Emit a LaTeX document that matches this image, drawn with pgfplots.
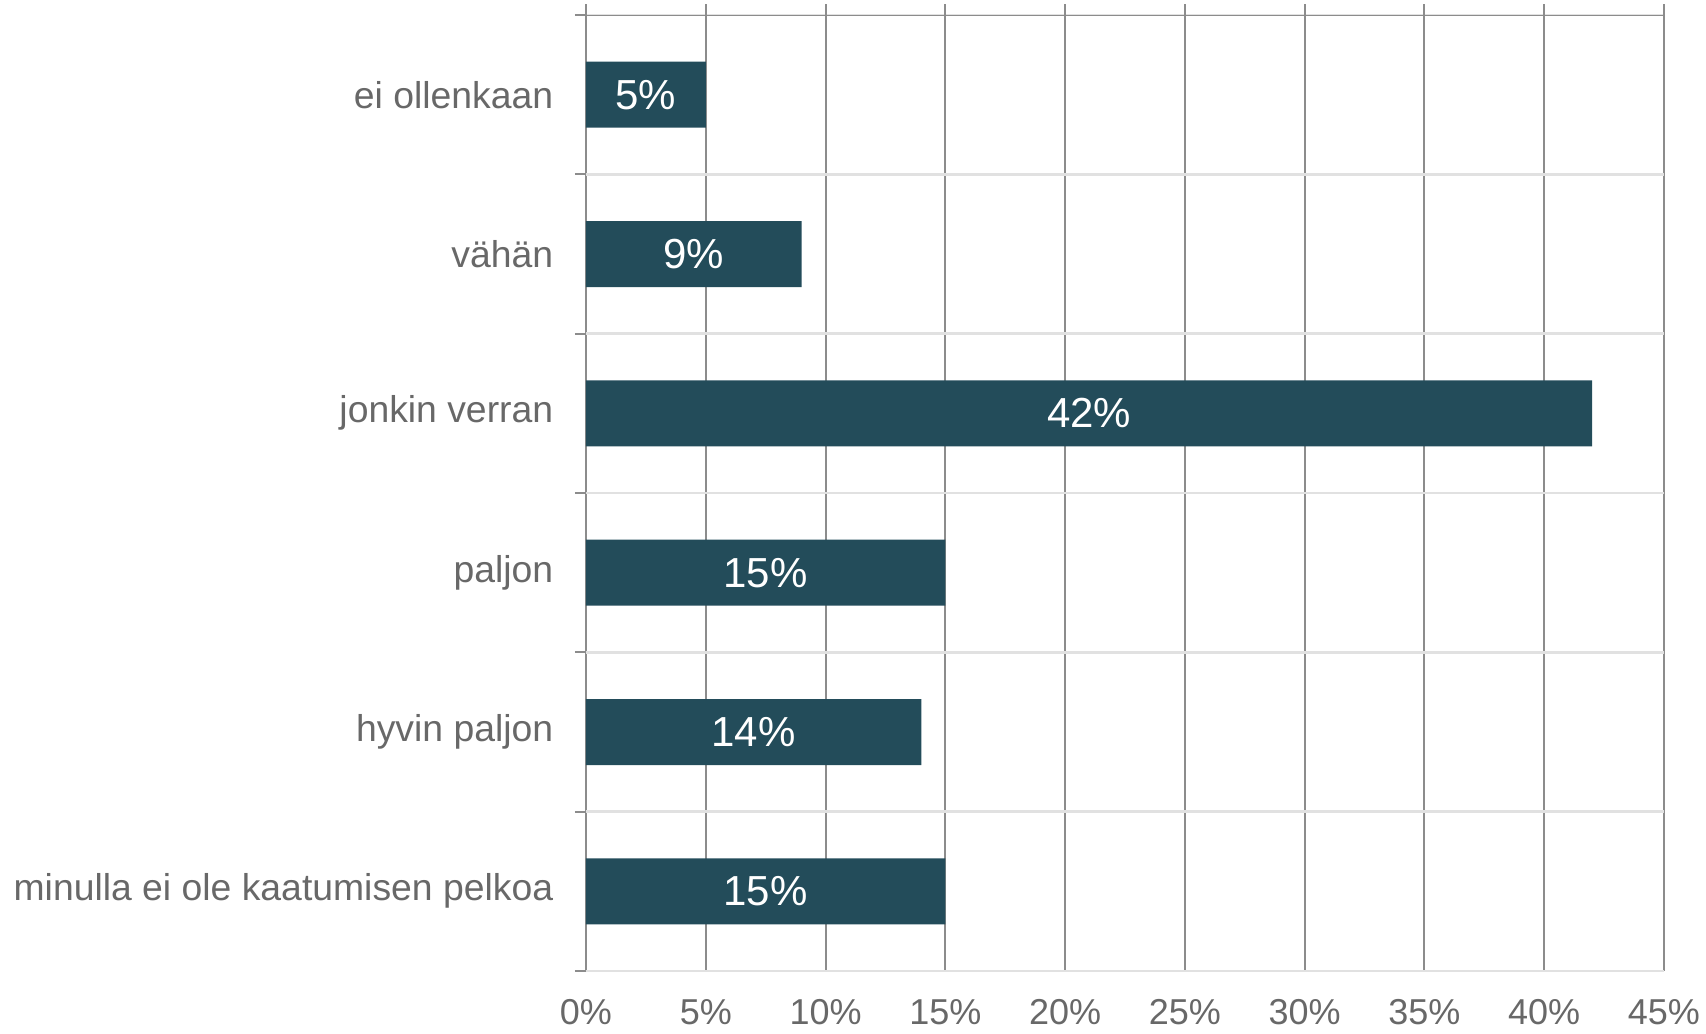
\documentclass[border=0pt]{standalone}
\usepackage{pgfplots}
\pgfplotsset{compat=1.18}
\usepackage{pgfplotstable}
\usepackage{fontspec}
\setmainfont{Liberation Sans}
\definecolor{barcol}{RGB}{35,76,90}
\definecolor{txtgray}{RGB}{104,104,104}
\definecolor{gridd}{RGB}{140,140,140}
\definecolor{gridl}{RGB}{225,225,225}
\pgfplotstableread{
y v
0 5
1 9
2 42
3 15
4 14
5 15
}\data
\begin{document}
\begin{tikzpicture}
\useasboundingbox (-175.8pt,-18.9pt) rectangle (336pt,291.3pt);
\begin{axis}[
  at={(0,0)}, anchor=south west,
  scale only axis,
  width=323.4pt, height=286.8pt,
  xmin=0, xmax=45, ymin=-0.5, ymax=5.5,
  y dir=reverse,
  axis line style={draw=none},
  xtick={0,5,...,45},
  xticklabel={\pgfmathprintnumber{\tick}\%},
  /pgf/number format/assume math mode=true,
  xtick pos=upper, xticklabel pos=lower,
  tick align=outside,
  xmajorgrids, ymajorgrids,
  x grid style={gridd, line width=0.6pt},
  y grid style={gridl, line width=0.8pt},
  major tick length=3.3pt,
  tick style={gridd, line width=0.6pt},
  ytick={-0.5,0.5,...,5.5},
  yticklabels={},
  ytick pos=left,
  extra y ticks={0,1,2,3,4,5},
  extra y tick labels={ei ollenkaan, vähän, jonkin verran, paljon, hyvin paljon, minulla ei ole kaatumisen pelkoa},
  extra y tick style={grid=none, major tick length=0pt, tick style={draw=none}},
  xticklabel style={font=\fontsize{10.8}{12}\selectfont, text=txtgray, yshift=-1.6pt},
  yticklabel style={font=\fontsize{11.2}{13}\selectfont, text=txtgray, xshift=-6.3pt},
]
\addplot[xbar, fill=barcol, draw=none, bar width=19.8pt] table[x=v, y=y] {\data};
\addplot[draw=none, mark=none, point meta=\thisrow{v},
  nodes near coords={\pgfmathprintnumber{\pgfplotspointmeta}\%},
  nodes near coords style={anchor=center, text=white, font=\fontsize{12.6}{15}\selectfont}]
  table[x expr=\thisrow{v}/2, y=y] {\data};
\draw[gridd, line width=0.6pt] (axis cs:0,-0.5) -- (axis cs:45,-0.5);
\end{axis}
\end{tikzpicture}
\end{document}
